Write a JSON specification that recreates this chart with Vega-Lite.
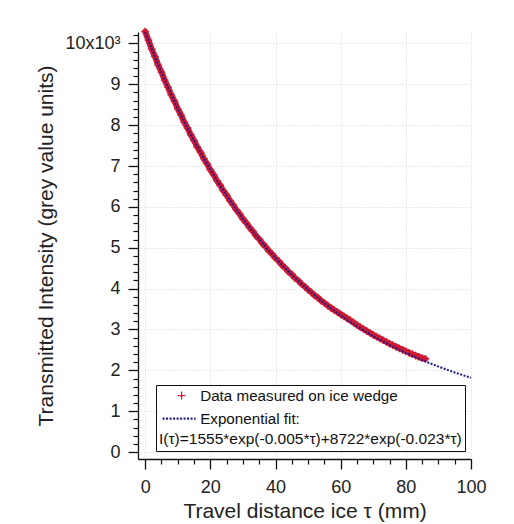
{
  "$schema": "https://vega.github.io/schema/vega-lite/v6.json",
  "width": 333,
  "height": 427,
  "autosize": {"type": "none"},
  "padding": {"left": 138, "top": 32, "right": 43, "bottom": 65},
  "background": "white",
  "config": {
    "view": {"stroke": null},
    "font": "Liberation Sans"
  },
  "datasets": {
    "meas": [
      {"tau": 0, "I": 10290, "series": "Data measured on ice wedge"},
      {"tau": 1, "I": 10080, "series": "Data measured on ice wedge"},
      {"tau": 2, "I": 9860, "series": "Data measured on ice wedge"},
      {"tau": 3, "I": 9680, "series": "Data measured on ice wedge"},
      {"tau": 4, "I": 9470, "series": "Data measured on ice wedge"},
      {"tau": 5, "I": 9300, "series": "Data measured on ice wedge"},
      {"tau": 6, "I": 9100, "series": "Data measured on ice wedge"},
      {"tau": 7, "I": 8930, "series": "Data measured on ice wedge"},
      {"tau": 8, "I": 8740, "series": "Data measured on ice wedge"},
      {"tau": 9, "I": 8585, "series": "Data measured on ice wedge"},
      {"tau": 10, "I": 8400, "series": "Data measured on ice wedge"},
      {"tau": 11, "I": 8250, "series": "Data measured on ice wedge"},
      {"tau": 12, "I": 8075, "series": "Data measured on ice wedge"},
      {"tau": 13, "I": 7930, "series": "Data measured on ice wedge"},
      {"tau": 14, "I": 7765, "series": "Data measured on ice wedge"},
      {"tau": 15, "I": 7625, "series": "Data measured on ice wedge"},
      {"tau": 16, "I": 7465, "series": "Data measured on ice wedge"},
      {"tau": 17, "I": 7335, "series": "Data measured on ice wedge"},
      {"tau": 18, "I": 7180, "series": "Data measured on ice wedge"},
      {"tau": 19, "I": 7055, "series": "Data measured on ice wedge"},
      {"tau": 20, "I": 6905, "series": "Data measured on ice wedge"},
      {"tau": 21, "I": 6790, "series": "Data measured on ice wedge"},
      {"tau": 22, "I": 6645, "series": "Data measured on ice wedge"},
      {"tau": 23, "I": 6530, "series": "Data measured on ice wedge"},
      {"tau": 24, "I": 6395, "series": "Data measured on ice wedge"},
      {"tau": 25, "I": 6285, "series": "Data measured on ice wedge"},
      {"tau": 26, "I": 6155, "series": "Data measured on ice wedge"},
      {"tau": 27, "I": 6050, "series": "Data measured on ice wedge"},
      {"tau": 28, "I": 5925, "series": "Data measured on ice wedge"},
      {"tau": 29, "I": 5828, "series": "Data measured on ice wedge"},
      {"tau": 30, "I": 5706, "series": "Data measured on ice wedge"},
      {"tau": 31, "I": 5612, "series": "Data measured on ice wedge"},
      {"tau": 32, "I": 5497, "series": "Data measured on ice wedge"},
      {"tau": 33, "I": 5408, "series": "Data measured on ice wedge"},
      {"tau": 34, "I": 5296, "series": "Data measured on ice wedge"},
      {"tau": 35, "I": 5210, "series": "Data measured on ice wedge"},
      {"tau": 36, "I": 5104, "series": "Data measured on ice wedge"},
      {"tau": 37, "I": 5022, "series": "Data measured on ice wedge"},
      {"tau": 38, "I": 4920, "series": "Data measured on ice wedge"},
      {"tau": 39, "I": 4842, "series": "Data measured on ice wedge"},
      {"tau": 40, "I": 4744, "series": "Data measured on ice wedge"},
      {"tau": 41, "I": 4670, "series": "Data measured on ice wedge"},
      {"tau": 42, "I": 4575, "series": "Data measured on ice wedge"},
      {"tau": 43, "I": 4504, "series": "Data measured on ice wedge"},
      {"tau": 44, "I": 4412, "series": "Data measured on ice wedge"},
      {"tau": 45, "I": 4346, "series": "Data measured on ice wedge"},
      {"tau": 46, "I": 4258, "series": "Data measured on ice wedge"},
      {"tau": 47, "I": 4195, "series": "Data measured on ice wedge"},
      {"tau": 48, "I": 4110, "series": "Data measured on ice wedge"},
      {"tau": 49, "I": 4050, "series": "Data measured on ice wedge"},
      {"tau": 50, "I": 3970, "series": "Data measured on ice wedge"},
      {"tau": 51, "I": 3910, "series": "Data measured on ice wedge"},
      {"tau": 52, "I": 3834, "series": "Data measured on ice wedge"},
      {"tau": 53, "I": 3778, "series": "Data measured on ice wedge"},
      {"tau": 54, "I": 3705, "series": "Data measured on ice wedge"},
      {"tau": 55, "I": 3650, "series": "Data measured on ice wedge"},
      {"tau": 56, "I": 3585, "series": "Data measured on ice wedge"},
      {"tau": 57, "I": 3530, "series": "Data measured on ice wedge"},
      {"tau": 58, "I": 3475, "series": "Data measured on ice wedge"},
      {"tau": 59, "I": 3425, "series": "Data measured on ice wedge"},
      {"tau": 60, "I": 3372, "series": "Data measured on ice wedge"},
      {"tau": 61, "I": 3322, "series": "Data measured on ice wedge"},
      {"tau": 62, "I": 3272, "series": "Data measured on ice wedge"},
      {"tau": 63, "I": 3220, "series": "Data measured on ice wedge"},
      {"tau": 64, "I": 3165, "series": "Data measured on ice wedge"},
      {"tau": 65, "I": 3110, "series": "Data measured on ice wedge"},
      {"tau": 66, "I": 3060, "series": "Data measured on ice wedge"},
      {"tau": 67, "I": 3010, "series": "Data measured on ice wedge"},
      {"tau": 68, "I": 2962, "series": "Data measured on ice wedge"},
      {"tau": 69, "I": 2915, "series": "Data measured on ice wedge"},
      {"tau": 70, "I": 2868, "series": "Data measured on ice wedge"},
      {"tau": 71, "I": 2822, "series": "Data measured on ice wedge"},
      {"tau": 72, "I": 2780, "series": "Data measured on ice wedge"},
      {"tau": 73, "I": 2738, "series": "Data measured on ice wedge"},
      {"tau": 74, "I": 2696, "series": "Data measured on ice wedge"},
      {"tau": 75, "I": 2655, "series": "Data measured on ice wedge"},
      {"tau": 76, "I": 2616, "series": "Data measured on ice wedge"},
      {"tau": 77, "I": 2576, "series": "Data measured on ice wedge"},
      {"tau": 78, "I": 2540, "series": "Data measured on ice wedge"},
      {"tau": 79, "I": 2503, "series": "Data measured on ice wedge"},
      {"tau": 80, "I": 2466, "series": "Data measured on ice wedge"},
      {"tau": 81, "I": 2430, "series": "Data measured on ice wedge"},
      {"tau": 82, "I": 2396, "series": "Data measured on ice wedge"},
      {"tau": 83, "I": 2362, "series": "Data measured on ice wedge"},
      {"tau": 84, "I": 2330, "series": "Data measured on ice wedge"},
      {"tau": 85, "I": 2298, "series": "Data measured on ice wedge"},
      {"tau": 86, "I": 2280, "series": "Data measured on ice wedge"}
    ],
    "fit": [
      {"tau": 0, "I": 10277, "series": "Exponential fit:"},
      {"tau": 5, "I": 9291, "series": "Exponential fit:"},
      {"tau": 10, "I": 8409, "series": "Exponential fit:"},
      {"tau": 15, "I": 7620, "series": "Exponential fit:"},
      {"tau": 20, "I": 6913, "series": "Exponential fit:"},
      {"tau": 25, "I": 6280, "series": "Exponential fit:"},
      {"tau": 30, "I": 5713, "series": "Exponential fit:"},
      {"tau": 35, "I": 5205, "series": "Exponential fit:"},
      {"tau": 40, "I": 4749, "series": "Exponential fit:"},
      {"tau": 45, "I": 4340, "series": "Exponential fit:"},
      {"tau": 50, "I": 3973, "series": "Exponential fit:"},
      {"tau": 55, "I": 3643, "series": "Exponential fit:"},
      {"tau": 60, "I": 3346, "series": "Exponential fit:"},
      {"tau": 65, "I": 3079, "series": "Exponential fit:"},
      {"tau": 70, "I": 2839, "series": "Exponential fit:"},
      {"tau": 75, "I": 2623, "series": "Exponential fit:"},
      {"tau": 80, "I": 2428, "series": "Exponential fit:"},
      {"tau": 85, "I": 2251, "series": "Exponential fit:"},
      {"tau": 90, "I": 2092, "series": "Exponential fit:"},
      {"tau": 95, "I": 1948, "series": "Exponential fit:"},
      {"tau": 100, "I": 1818, "series": "Exponential fit:"}
    ]
  },
  "layer": [
    {
      "data": {"name": "meas"},
      "mark": {"type": "line", "color": "#d01a32", "strokeWidth": 6, "strokeCap": "round", "interpolate": "monotone"},
      "encoding": {
        "x": {"field": "tau", "type": "quantitative", "axis": null, "scale": {"domain": [-2.2, 100], "nice": false, "zero": false}},
        "y": {"field": "I", "type": "quantitative", "axis": null, "scale": {"domain": [-170, 10280], "nice": false, "zero": false}}
      }
    },
    {
      "data": {"name": "meas"},
      "mark": {"type": "point", "shape": "M-1,0H1M0,-1V1", "filled": false, "size": 60, "strokeWidth": 1.3, "opacity": 1},
      "encoding": {
        "x": {
          "field": "tau", "type": "quantitative",
          "scale": {"domain": [-2.2, 100], "nice": false, "zero": false},
          "axis": {
            "orient": "bottom",
            "values": [0, 20, 40, 60, 80, 100],
            "grid": true, "gridColor": "#d4d4d4", "gridDash": [1, 2], "gridWidth": 1,
            "tickSize": 10, "tickColor": "#111", "tickWidth": 1.3,
            "domainColor": "#111", "domainWidth": 1.3,
            "labelFontSize": 18, "labelPadding": 9, "labelColor": "#222", "labelFlush": false,
            "title": "Travel distance ice τ (mm)", "titleFontSize": 21, "titleFontWeight": "normal", "titleColor": "#222", "titlePadding": 4
          }
        },
        "y": {
          "field": "I", "type": "quantitative",
          "scale": {"domain": [-170, 10280], "nice": false, "zero": false},
          "axis": {
            "orient": "left",
            "values": [0, 1000, 2000, 3000, 4000, 5000, 6000, 7000, 8000, 9000, 10000],
            "labelExpr": "datum.value >= 10000 ? '10x10³' : format(datum.value / 1000, 'd')",
            "grid": true, "gridColor": "#d4d4d4", "gridDash": [1, 2], "gridWidth": 1,
            "tickSize": 10, "tickColor": "#111", "tickWidth": 1.3,
            "domainColor": "#111", "domainWidth": 1.3,
            "labelFontSize": 18, "labelPadding": 8, "labelColor": "#222", "labelFlush": false,
            "title": "Transmitted Intensity (grey value units)", "titleFontSize": 21, "titleFontWeight": "normal", "titleColor": "#222", "titlePadding": 8
          }
        },
        "color": {
          "field": "series", "type": "nominal",
          "scale": {"domain": ["Data measured on ice wedge", "Exponential fit:"], "range": ["#d01a32", "#1c1c8c"]},
          "legend": {
            "orient": "none", "legendX": 18, "legendY": 353,
            "title": "I(τ)=1555*exp(-0.005*τ)+8722*exp(-0.023*τ)",
            "titleOrient": "bottom", "titleAnchor": "start", "titleFontWeight": "normal", "titleFontSize": 15.5,
            "titleColor": "#111", "titlePadding": 5, "titleLimit": 400,
            "labelFontSize": 15.2, "labelColor": "#111", "labelLimit": 400, "labelOffset": 26,
            "symbolSize": 64, "rowPadding": 7, "padding": 3,
            "strokeColor": "#111", "fillColor": "white",
            "encode": {
              "legend": {"update": {"strokeWidth": {"value": 1.5}}}
            }
          }
        }
      }
    },
    {
      "data": {"name": "meas"},
      "transform": [{"filter": "datum.tau < -50"}],
      "mark": {"type": "point", "filled": false},
      "encoding": {
        "x": {"field": "tau", "type": "quantitative", "axis": null, "scale": {"domain": [-2.2, 100], "nice": false, "zero": false}},
        "y": {"field": "I", "type": "quantitative", "axis": null, "scale": {"domain": [-170, 10280], "nice": false, "zero": false}},
        "color": {
          "field": "series", "type": "nominal",
          "scale": {"domain": ["Data measured on ice wedge", "Exponential fit:"], "range": ["#d01a32", "#1c1c8c"]}
        },
        "shape": {
          "field": "series", "type": "nominal",
          "scale": {"domain": ["Data measured on ice wedge", "Exponential fit:"], "range": ["M2.75,0H4.75M3.75,-1V1", "M-1,0H7.25"]}
        },
        "strokeWidth": {
          "field": "series", "type": "nominal",
          "scale": {"domain": ["Data measured on ice wedge", "Exponential fit:"], "range": [1.2, 2.2]}
        }
      }
    },
    {
      "data": {"name": "fit"},
      "mark": {"type": "line", "strokeWidth": 2, "interpolate": "monotone"},
      "encoding": {
        "x": {
          "field": "tau", "type": "quantitative",
          "scale": {"domain": [-2.2, 100], "nice": false, "zero": false},
          "axis": {
            "orient": "bottom",
            "values": [5, 10, 15, 25, 30, 35, 45, 50, 55, 65, 70, 75, 85, 90, 95],
            "grid": false, "domain": false, "labels": false, "title": null,
            "tickSize": 5, "tickColor": "#111", "tickWidth": 1.2
          }
        },
        "y": {
          "field": "I", "type": "quantitative",
          "scale": {"domain": [-170, 10280], "nice": false, "zero": false},
          "axis": {
            "orient": "left",
            "values": [200, 400, 600, 800, 1200, 1400, 1600, 1800, 2200, 2400, 2600, 2800, 3200, 3400, 3600, 3800, 4200, 4400, 4600, 4800, 5200, 5400, 5600, 5800, 6200, 6400, 6600, 6800, 7200, 7400, 7600, 7800, 8200, 8400, 8600, 8800, 9200, 9400, 9600, 9800, 10200],
            "grid": false, "domain": false, "labels": false, "title": null,
            "tickSize": 5, "tickColor": "#111", "tickWidth": 1.2
          }
        },
        "color": {
          "field": "series", "type": "nominal",
          "scale": {"domain": ["Data measured on ice wedge", "Exponential fit:"], "range": ["#d01a32", "#1c1c8c"]}
        },
        "strokeDash": {
          "field": "series", "type": "nominal",
          "scale": {"domain": ["Data measured on ice wedge", "Exponential fit:"], "range": [[1, 0], [2, 1.5]]}
        }
      }
    }
  ],
  "resolve": {"axis": {"x": "independent", "y": "independent"}}
}
